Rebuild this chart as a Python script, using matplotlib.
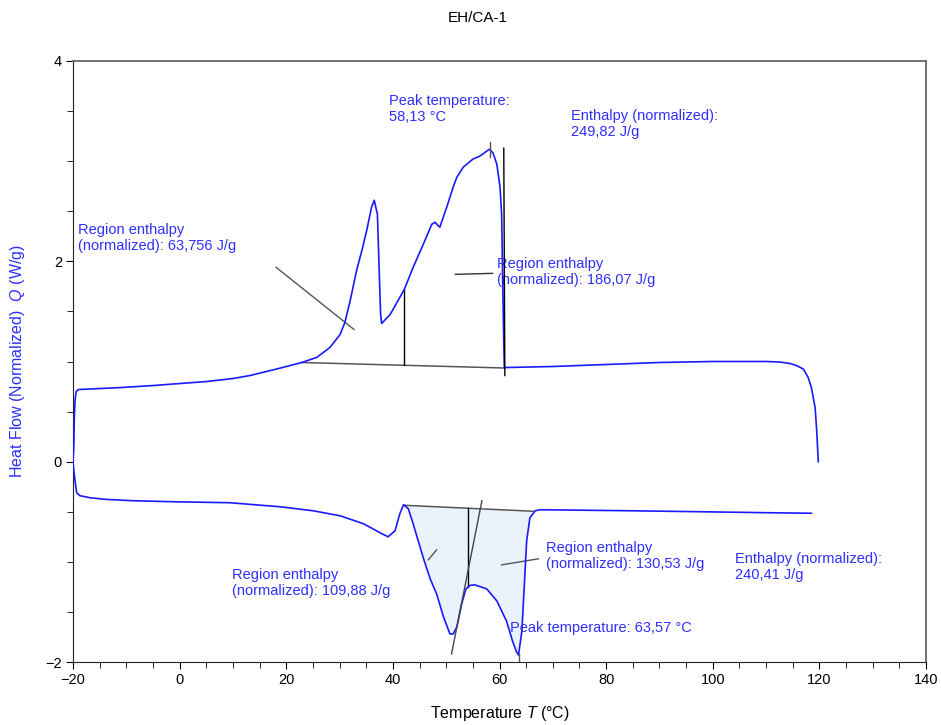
import numpy as np
import matplotlib
matplotlib.use("Agg")
import matplotlib.pyplot as plt
from matplotlib.ticker import MultipleLocator

plt.rcParams['font.family'] = ['Liberation Sans', 'DejaVu Sans']
plt.rcParams['mathtext.fontset'] = 'custom'
plt.rcParams['mathtext.rm'] = 'Liberation Sans'
plt.rcParams['mathtext.it'] = 'Liberation Sans:italic'

# curva de calentamiento (arriba)
t_heat = [-20.0, -19.85, -19.75, -19.6, -19.4, -19.0, -15.0, -11.0, -5.0, 0.0, 5.0,
          10.0, 13.2, 18.2, 22.9, 25.7, 28.2, 30.1, 31.0, 32.0, 33.2, 34.2, 35.1,
          36.0, 36.5, 37.1, 37.5, 37.7, 37.9, 39.5, 41.3, 42.15, 43.8, 45.7, 47.3,
          47.9, 48.8, 50.1, 51.3, 52.0, 53.2, 55.0, 56.3, 58.13, 58.8, 59.5, 60.1,
          60.4, 60.6, 60.8, 60.9, 61.5, 70.0, 80.0, 90.0, 100.0, 110.0, 112.5,
          114.5, 115.7, 117.0, 117.9, 118.5, 119.2, 119.5, 119.8]
q_heat = [0.0, 0.15, 0.45, 0.62, 0.70, 0.72, 0.73, 0.74, 0.76, 0.78, 0.80,
          0.83, 0.86, 0.925, 0.99, 1.04, 1.14, 1.27, 1.39, 1.61, 1.91, 2.11, 2.31,
          2.54, 2.61, 2.47, 1.80, 1.47, 1.38, 1.47, 1.64, 1.72, 1.94, 2.17, 2.37,
          2.39, 2.34, 2.54, 2.74, 2.84, 2.94, 3.02, 3.05, 3.12, 3.08, 2.97, 2.74,
          2.47, 1.80, 1.20, 0.94, 0.94, 0.95, 0.97, 0.99, 1.00, 1.00, 0.995,
          0.98, 0.96, 0.925, 0.84, 0.74, 0.54, 0.31, 0.0]

# curva de enfriamiento (abajo)
t_cool = [-20.0, -19.9, -19.62, -19.31, -18.69, -16.8, -14.0, -8.7, -1.2, 9.4,
          18.8, 25.0, 30.1, 34.5, 37.6, 39.1, 40.4, 41.3, 42.0, 42.9, 43.8, 45.7,
          47.0, 48.2, 49.5, 50.7, 51.3, 52.0, 52.9, 53.7, 54.5, 55.4, 57.6, 59.5,
          61.3, 62.5, 63.2, 63.57, 64.2, 64.6, 65.1, 65.7, 66.7, 67.6, 84.5, 97.9,
          110.7, 118.5]
q_cool = [0.0, -0.06, -0.19, -0.31, -0.34, -0.36, -0.376, -0.39, -0.40, -0.41,
          -0.45, -0.49, -0.54, -0.62, -0.71, -0.75, -0.69, -0.52, -0.43, -0.47,
          -0.62, -0.96, -1.17, -1.32, -1.55, -1.72, -1.72, -1.65, -1.42, -1.27,
          -1.235, -1.23, -1.27, -1.39, -1.59, -1.80, -1.90, -1.93, -1.69, -1.29,
          -0.79, -0.56, -0.49, -0.48, -0.49, -0.50, -0.51, -0.515]

# lineas de base e integracion
base_heat_t = [22.9, 61.0]
base_heat_q = [0.99, 0.935]
base_cool_t = [42.0, 66.3]
base_cool_q = [-0.435, -0.495]
div_heat = 42.15
div_cool = 54.15
peak_heat = 58.13
peak_cool = 63.57

azul = '#2f2fff'

fig = plt.figure(figsize=(9.41, 7.25), dpi=100)
ax = fig.add_axes([73 / 941, 63 / 725, 853 / 941, 601 / 725])

# relleno de las regiones de enfriamiento
tc = np.array(t_cool)
qc = np.array(q_cool)
m = (tc >= base_cool_t[0]) & (tc <= base_cool_t[1])
tt = np.concatenate([[base_cool_t[0]], tc[m], [base_cool_t[1]]])
qq = np.concatenate([[base_cool_q[0]], qc[m], [np.interp(base_cool_t[1], tc, qc)]])
bb = np.interp(tt, base_cool_t, base_cool_q)
ax.fill_between(tt, qq, bb, color='#eaf3fc', lw=0, zorder=1)

ax.plot(base_heat_t, base_heat_q, color='#555555', lw=1.1, zorder=2)
ax.plot(base_cool_t, base_cool_q, color='#555555', lw=1.1, zorder=2)

ax.plot(t_heat, q_heat, color='#1a1aff', lw=1.2, zorder=3)
ax.plot(t_cool, q_cool, color='#1a1aff', lw=1.2, zorder=3)

# separadores de regiones
ax.plot([div_heat, div_heat], [np.interp(div_heat, base_heat_t, base_heat_q),
                                np.interp(div_heat, t_heat, q_heat)], color='black', lw=1)
ax.plot([div_cool, div_cool], [np.interp(div_cool, base_cool_t, base_cool_q),
                                np.interp(div_cool, t_cool, q_cool)], color='black', lw=1)
ax.plot([60.8, 61.0], [3.13, 0.86], color='black', lw=1, zorder=4)
# tangente
ax.plot([51.0, 56.7], [-1.92, -0.39], color='#444444', lw=1, zorder=4)
# marcas de pico
ax.plot([peak_heat, peak_heat], [3.04, 3.19], color='#555555', lw=1, zorder=4)
ax.plot([peak_cool, peak_cool], [-2.0, -1.92], color='#555555', lw=1, zorder=4)
# lineas guia de etiquetas
ax.plot([18.1, 32.7], [1.94, 1.32], color='#555555', lw=1)
ax.plot([51.7, 58.7], [1.87, 1.88], color='#333333', lw=1)
ax.plot([46.65, 48.2], [-0.98, -0.88], color='#555555', lw=1)
ax.plot([60.4, 67.3], [-1.03, -0.97], color='#555555', lw=1)

fs = 10.5
ax.text(39.3, 3.52, 'Peak temperature:\n58,13 °C', color=azul, fontsize=fs, va='center')
ax.text(73.4, 3.37, 'Enthalpy (normalized):\n249,82 J/g', color=azul, fontsize=fs, va='center')
ax.text(-19.06, 2.23, 'Region enthalpy\n(normalized): 63,756 J/g', color=azul, fontsize=fs, va='center')
ax.text(59.5, 1.89, 'Region enthalpy\n(normalized): 186,07 J/g', color=azul, fontsize=fs, va='center')
ax.text(68.7, -0.94, 'Region enthalpy\n(normalized): 130,53 J/g', color=azul, fontsize=fs, va='center')
ax.text(104.2, -1.05, 'Enthalpy (normalized):\n240,41 J/g', color=azul, fontsize=fs, va='center')
ax.text(9.8, -1.21, 'Region enthalpy\n(normalized): 109,88 J/g', color=azul, fontsize=fs, va='center')
ax.text(62.0, -1.66, 'Peak temperature: 63,57 °C', color=azul, fontsize=fs, va='center')

ax.set_xlim(-20, 140)
ax.set_ylim(-2, 4)
ax.xaxis.set_major_locator(MultipleLocator(20))
ax.xaxis.set_minor_locator(MultipleLocator(5))
ax.yaxis.set_major_locator(MultipleLocator(2))
ax.yaxis.set_minor_locator(MultipleLocator(0.5))
ax.tick_params(which='major', length=5, labelsize=fs, pad=3)
ax.tick_params(which='minor', length=4)
for s in ['left', 'bottom']:
    ax.spines[s].set_color('#222222')
for s in ['top', 'right']:
    ax.spines[s].set_color('#666666')
    ax.spines[s].set_linewidth(1.3)

ax.set_xlabel('Temperature $T$ (°C)', fontsize=11.5, va='center')
ax.xaxis.set_label_coords(0.5, -0.0865)
ax.set_ylabel('Heat Flow (Normalized)  $Q$ (W/g)', fontsize=11.5, color=azul, va='center')
ax.yaxis.set_label_coords(-0.0645, 0.5)

fig.text(478 / 941, 1 - 18 / 725, 'EH/CA-1', fontsize=11, ha='center', va='center')

fig.savefig('out.png', dpi=100)
